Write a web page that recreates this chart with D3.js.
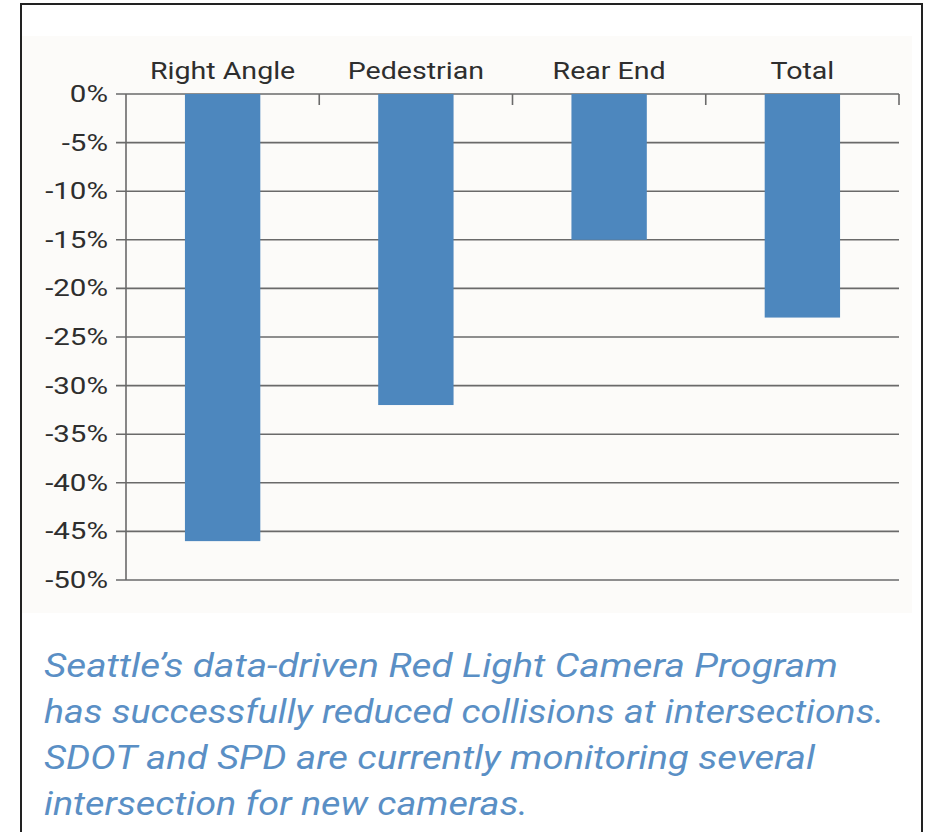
<!DOCTYPE html>
<html>
<head>
<meta charset="utf-8">
<script src="https://cdn.jsdelivr.net/npm/d3@7"></script>
<style>
  body { margin: 0; background: #fff; }
  text { font-family: Roboto, "DejaVu Sans", sans-serif; }
</style>
</head>
<body>
<svg id="chart" width="926" height="832"></svg>
<script>
// data
const categories = ["Right Angle", "Pedestrian", "Rear End", "Total"];
const changes = [-46, -32, -15, -23];
const yTicks = [0, -5, -10, -15, -20, -25, -30, -35, -40, -45, -50];
const captionLines = [
  "Seattle\u2019s data-driven Red Light Camera Program",
  "has successfully reduced collisions at intersections.",
  "SDOT and SPD are currently monitoring several",
  "intersection for new cameras."
];
const captionWidths = [794, 840, 771, 484];

const svg = d3.select("#chart");

// stretch a text selection horizontally to mimic the wider original face
function widen(sel, factor) {
  sel.each(function () {
    const w = this.getComputedTextLength();
    d3.select(this).attr("textLength", w * factor).attr("lengthAdjust", "spacingAndGlyphs");
  });
}

// frame + panel
svg.append("rect")
  .attr("x", 21).attr("y", 4).attr("width", 901).attr("height", 840)
  .attr("fill", "#fff").attr("stroke", "#222").attr("stroke-width", 2);
svg.append("rect")
  .attr("x", 22).attr("y", 36).attr("width", 890).attr("height", 577)
  .attr("fill", "#fcfbf9");

const plotLeft = 126, plotRight = 899, plotTop = 94, plotBottom = 580;

const x = d3.scaleBand().domain(categories).range([plotLeft, plotRight]).paddingInner(0.61).paddingOuter(0.305);
const y = d3.scaleLinear().domain([0, -50]).range([plotTop, plotBottom]);

const lineColor = "#6a6a6a";

// gridlines
svg.append("g")
  .selectAll("line")
  .data(yTicks)
  .join("line")
  .attr("x1", plotLeft - 10).attr("x2", plotRight)
  .attr("y1", d => y(d)).attr("y2", d => y(d))
  .attr("stroke", lineColor).attr("stroke-width", 1.6);

// y axis line
svg.append("line")
  .attr("x1", plotLeft).attr("x2", plotLeft).attr("y1", plotTop).attr("y2", plotBottom)
  .attr("stroke", lineColor).attr("stroke-width", 1.6);

// category boundary ticks on the zero line
const step = x.step();
svg.append("g")
  .selectAll("line")
  .data(categories.map((c, i) => i + 1))
  .join("line")
  .attr("x1", i => plotLeft + i * step).attr("x2", i => plotLeft + i * step)
  .attr("y1", plotTop).attr("y2", plotTop + 11)
  .attr("stroke", lineColor).attr("stroke-width", 1.6);

// bars
svg.append("g")
  .selectAll("rect")
  .data(categories)
  .join("rect")
  .attr("x", d => x(d))
  .attr("width", x.bandwidth())
  .attr("y", y(0))
  .attr("height", (d, i) => y(changes[i]) - y(0))
  .attr("fill", "#4d87be");

// y tick labels
svg.append("g")
  .selectAll("text")
  .data(yTicks)
  .join("text")
  .attr("x", 108)
  .attr("y", d => y(d) + 8)
  .attr("text-anchor", "end")
  .attr("font-size", 23)
  .attr("fill", "#2e2e2e")
  .text(d => d + "%")
  .call(widen, 1.28);

// category labels
svg.append("g")
  .selectAll("text")
  .data(categories)
  .join("text")
  .attr("x", d => x(d) + x.bandwidth() / 2)
  .attr("y", 79)
  .attr("text-anchor", "middle")
  .attr("font-size", 24)
  .attr("fill", "#2e2e2e")
  .text(d => d)
  .call(widen, 1.19);

// caption
svg.append("g")
  .selectAll("text")
  .data(captionLines)
  .join("text")
  .attr("x", 44)
  .attr("y", (d, i) => 677 + i * 46)
  .attr("font-size", 34)
  .attr("font-style", "italic")
  .attr("fill", "#5a8fc5")
  .attr("textLength", (d, i) => captionWidths[i])
  .attr("lengthAdjust", "spacingAndGlyphs")
  .text(d => d);
</script>
</body>
</html>
